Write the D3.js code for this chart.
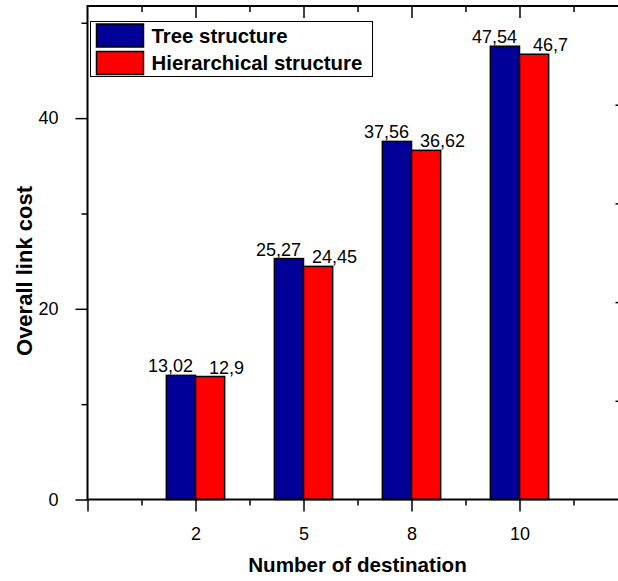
<!DOCTYPE html>
<html><head><meta charset="utf-8">
<script src="https://cdn.jsdelivr.net/npm/d3@7"></script>
<style>
html,body{margin:0;padding:0;background:#fff;}
svg{display:block;font-family:"Liberation Sans",Arial,sans-serif;}
</style></head>
<body><svg id="c" width="618" height="581"></svg>
<script>
const categories = ["2", "5", "8", "10"];
const treeValues = [13.02, 25.27, 37.56, 47.54];
const hierValues = [12.9, 24.45, 36.62, 46.7];
const seriesNames = ["Tree structure", "Hierarchical structure"];
const seriesColors = ["#000099", "#ff0000"];
const yMajorTicks = [0, 20, 40];
const yMinorTicks = [10, 30, 50];

const svg = d3.select("#c");
const L = 87.5, R = 627.5, T = 6, B = 499.5;
const x = d3.scaleLinear().domain([0, 5]).range([L, R]);
const y = d3.scaleLinear().domain([0, 51.76]).range([B, T]);
const yRight = d3.scaleLinear().domain([0, 5]).range([B, T]);
const barW = 0.27;
const catPos = categories.map((c, i) => i + 1);
const minorX = [0.5, 1.5, 2.5, 3.5, 4.5];

// bars
const series = [treeValues, hierValues];
series.forEach((vals, s) => {
  svg.append("g").selectAll("rect").data(vals).join("rect")
    .attr("x", (d, i) => x(catPos[i] + (s === 0 ? -barW : 0)))
    .attr("width", x(barW) - x(0))
    .attr("y", d => y(d))
    .attr("height", d => y(0) - y(d))
    .attr("fill", seriesColors[s])
    .attr("stroke", "#000").attr("stroke-width", 1.5);
});

// value labels
const fmt = v => String(v).replace(".", ",");
series.forEach((vals, s) => {
  svg.append("g").selectAll("text").data(vals).join("text")
    .attr("x", (d, i) => {
      const c = x(catPos[i] + (s === 0 ? -barW / 2 : barW / 2));
      return s === 0 ? c - 10.5 : c + 16.5;
    })
    .attr("y", d => y(d) - 3)
    .attr("text-anchor", "middle")
    .attr("font-size", 18)
    .attr("fill", "#000")
    .text(d => fmt(d));
});

function styleAxis(g) {
  g.selectAll(".domain").remove();
  g.selectAll("line").attr("stroke", "#000").attr("stroke-width", 1.5);
  g.selectAll("text").attr("font-size", 18).attr("fill", "#000")
   .attr("font-family", "Liberation Sans, Arial, sans-serif");
}

// bottom axis
svg.append("g").attr("transform", `translate(0,${B})`)
  .call(d3.axisBottom(x).tickValues(catPos).tickFormat((d, i) => categories[i]).tickSize(12).tickPadding(16))
  .call(styleAxis);
svg.append("g").attr("transform", `translate(0,${B})`)
  .call(d3.axisBottom(x).tickValues([0]).tickFormat("").tickSize(12)).call(styleAxis);
svg.append("g").attr("transform", `translate(0,${B})`)
  .call(d3.axisBottom(x).tickValues(minorX).tickFormat("").tickSize(6)).call(styleAxis);
// top axis (inward)
svg.append("g").attr("transform", `translate(0,${T})`)
  .call(d3.axisBottom(x).tickValues(catPos).tickFormat("").tickSize(12)).call(styleAxis);
svg.append("g").attr("transform", `translate(0,${T})`)
  .call(d3.axisBottom(x).tickValues(minorX).tickFormat("").tickSize(6)).call(styleAxis);
// left axis
svg.append("g").attr("transform", `translate(${L},0)`)
  .call(d3.axisLeft(y).tickValues(yMajorTicks).tickFormat(d3.format("d")).tickSize(12).tickPadding(17))
  .call(styleAxis);
svg.append("g").attr("transform", `translate(${L},0)`)
  .call(d3.axisLeft(y).tickValues(yMinorTicks).tickFormat("").tickSize(6)).call(styleAxis);
// right axis (inward)
svg.append("g").attr("transform", `translate(${R},0)`)
  .call(d3.axisLeft(yRight).tickValues([1, 2, 3, 4]).tickFormat("").tickSize(12)).call(styleAxis);

// frame
svg.append("rect").attr("x", L).attr("y", T).attr("width", R - L).attr("height", B - T)
  .attr("fill", "none").attr("stroke", "#000").attr("stroke-width", 2);

// legend
const lg = svg.append("g");
lg.append("rect").attr("x", 90.5).attr("y", 21.5).attr("width", 282).attr("height", 55)
  .attr("fill", "#fff").attr("stroke", "#000").attr("stroke-width", 1);
seriesNames.forEach((n, i) => {
  lg.append("rect").attr("x", 96.5).attr("y", 24 + i * 27.5).attr("width", 47).attr("height", 23)
    .attr("fill", seriesColors[i]).attr("stroke", "#000").attr("stroke-width", 1.5);
  lg.append("text").attr("x", 151.5).attr("y", 43.3 + i * 27)
    .attr("font-size", 20.4).attr("font-weight", "bold").attr("fill", "#000").text(n);
});

// axis titles
svg.append("text").attr("x", (L + R) / 2).attr("y", 572).attr("text-anchor", "middle")
  .attr("font-size", 20.6).attr("font-weight", "bold").text("Number of destination");
svg.append("text").attr("transform", "translate(32,271) rotate(-90)").attr("text-anchor", "middle")
  .attr("font-size", 22).attr("font-weight", "bold").text("Overall link cost");
</script></body></html>
